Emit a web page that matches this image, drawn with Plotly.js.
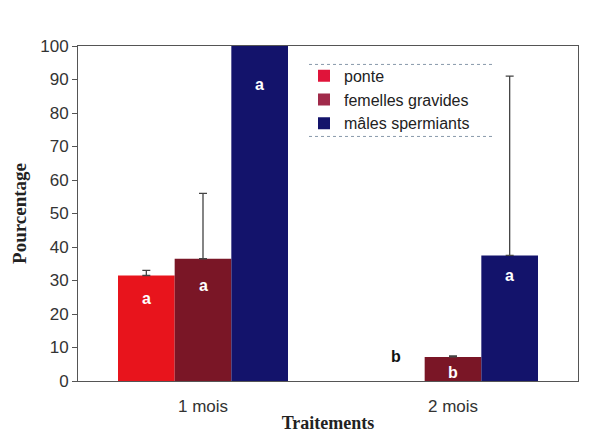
<!DOCTYPE html>
<html><head><meta charset="utf-8">
<script src="https://cdn.plot.ly/plotly-3.0.1.min.js"></script>
<style>html,body{margin:0;padding:0;background:#fff;}#chart{width:590px;height:435px;}</style>
</head><body><div id="chart"></div>
<script>
const categories = ['1 mois', '2 mois'];
const seriesNames = ['ponte', 'femelles gravides', 'mâles spermiants'];
const ponte = [31.5, 0];
const femelles = [36.5, 7.2];
const males = [100, 37.5];
const ponteErr = [1.5, 0];
const femellesErr = [19.5, 0.3];
const malesErr = [0, 53.5];
const ponteLetters = ['a', 'b'];
const femellesLetters = ['a', 'b'];
const malesLetters = ['a', 'a'];
const ponteLetterY = [24.5, 7.2];
const femellesLetterY = [28.5, 2.5];
const malesLetterY = [88.5, 31.5];

const colors = ['#e8141c', '#7a1626', '#13136b'];
const legendColors = ['#e0143a', '#a02a4a', '#13136b'];
const values = [ponte, femelles, males];
const errs = [ponteErr, femellesErr, malesErr];
const letters = [ponteLetters, femellesLetters, malesLetters];
const letterY = [ponteLetterY, femellesLetterY, malesLetterY];

const bargap = 0.32;
const bw = (1 - bargap) / 3;

const traces = values.map((v, i) => ({
  type: 'bar', name: seriesNames[i], x: categories, y: v,
  marker: {color: colors[i], line: {width: 0}},
  error_y: {type: 'data', symmetric: false,
            array: errs[i].map(e => e > 0 ? e : NaN), arrayminus: v.map(() => NaN),
            color: '#444', thickness: 1.3, width: 4, visible: true},
  showlegend: false
}));
// legend-only traces (hidden axes) with legend colours
seriesNames.forEach((n, i) => traces.push({
  type: 'bar', name: n, x: [null], y: [null], xaxis: 'x2', yaxis: 'y2',
  marker: {color: legendColors[i]}, showlegend: true
}));

const annotations = [];
letters.forEach((arr, i) => arr.forEach((t, j) => {
  const dark = values[i][j] === 0;
  annotations.push({
    x: j + (i - 1) * bw, y: letterY[i][j], xref: 'x', yref: 'y', text: t, showarrow: false,
    font: {family: 'Liberation Sans, Arial', size: 16, color: dark ? '#111' : '#fff', weight: 'bold'}
  });
}));

const layout = {
  width: 590, height: 435,
  margin: {l: 78, r: 12, t: 46, b: 54},
  paper_bgcolor: '#fff', plot_bgcolor: '#fff',
  barmode: 'group', bargap: bargap, bargroupgap: 0,
  font: {family: 'Liberation Sans, Arial', color: '#333'},
  xaxis: {
    type: 'category', showline: true, linecolor: '#555', linewidth: 1, mirror: true,
    ticks: '', tickfont: {size: 17, color: '#333'}, showgrid: false, ticklabelstandoff: 10,
    title: {text: 'Traitements', font: {family: 'Liberation Serif, Times New Roman', size: 18, color: '#222', weight: 'bold'}, standoff: 0}
  },
  yaxis: {
    range: [0, 100], dtick: 10, showline: true, linecolor: '#555', linewidth: 1, mirror: true,
    ticks: 'outside', ticklen: 5, tickcolor: '#555', showgrid: false, zeroline: false,
    tickfont: {size: 17, color: '#333'},
    title: {text: 'Pourcentage', font: {family: 'Liberation Serif, Times New Roman', size: 19, color: '#222', weight: 'bold'}, standoff: 8}
  },
  xaxis2: {overlaying: 'x', visible: false, range: [0, 1]},
  yaxis2: {overlaying: 'y', visible: false, range: [0, 1]},
  legend: {
    x: 0.452, y: 0.962, xanchor: 'left', yanchor: 'top', bgcolor: 'rgba(0,0,0,0)',
    font: {size: 16, color: '#222'}, tracegroupgap: 0, itemwidth: 30
  },
  shapes: [
    {type: 'line', xref: 'paper', yref: 'paper', x0: 0.462, x1: 0.83, y0: 0.945, y1: 0.945, line: {color: '#8899aa', width: 1, dash: 'dot'}},
    {type: 'line', xref: 'paper', yref: 'paper', x0: 0.462, x1: 0.83, y0: 0.73, y1: 0.73, line: {color: '#8899aa', width: 1, dash: 'dot'}}
  ],
  annotations: annotations
};
Plotly.newPlot('chart', traces, layout, {displayModeBar: false, staticPlot: true});
</script></body></html>
